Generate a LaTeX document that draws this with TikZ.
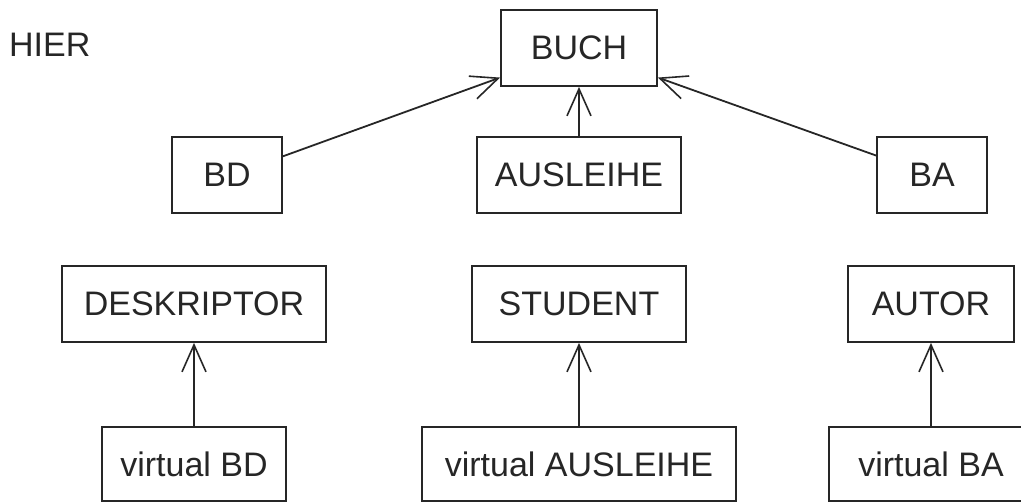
\documentclass[tikz,border=0pt]{standalone}
\usepackage{fontspec}
\setmainfont{Liberation Sans}
\usetikzlibrary{arrows.meta,calc}
\begin{document}
\begin{tikzpicture}[x=1pt,y=-1pt,
  box/.style={draw=black!85,line width=1.8pt,minimum height=75pt,inner sep=0pt,font=\fontsize{34}{36}\selectfont,text=black!85},
  link/.style={draw=black!85,line width=1.8pt,-{Straight Barb[length=27pt,width=24pt,line width=1.6pt]}}]
\useasboundingbox (0,0) rectangle (1021,502);
\clip (0,0) rectangle (1021,502);
\node[anchor=base west,inner sep=0pt,font=\fontsize{34}{36}\selectfont,text=black!85] (hier) at (9,57) {HIER};
% top level
\node[box,minimum width=156pt,minimum height=76pt] (buch) at (579,48) {BUCH};
% middle level
\node[box,minimum width=110pt,minimum height=76pt] (bd) at (227,175) {BD};
\node[box,minimum width=204pt,minimum height=76pt] (ausleihe) at (579,175) {AUSLEIHE};
\node[box,minimum width=110pt,minimum height=76pt] (ba) at (932,175) {BA};
% base relations
\node[box,minimum width=264pt,minimum height=76pt] (deskriptor) at (194,304) {DESKRIPTOR};
\node[box,minimum width=214pt,minimum height=76pt] (student) at (579,304) {STUDENT};
\node[box,minimum width=166pt,minimum height=76pt] (autor) at (931,304) {AUTOR};
% virtual relations
\node[box,minimum width=184pt,minimum height=74pt] (vbd) at (194,464) {virtual BD};
\node[box,minimum width=314pt,minimum height=74pt] (vausleihe) at (579,464) {virtual AUSLEIHE};
\node[box,minimum width=204pt,minimum height=74pt] (vba) at (931,464) {virtual BA};
% hierarchy arrows
\draw[link] ($(bd.north east)!0.26!(bd.south east)$) -- ($(buch.south west)!0.12!(buch.north west)$);
\draw[link] (ausleihe.north) -- (buch.south);
\draw[link] ($(ba.north west)!0.25!(ba.south west)$) -- ($(buch.south east)!0.12!(buch.north east)$);
\draw[link] (vbd.north) -- (deskriptor.south);
\draw[link] (vausleihe.north) -- (student.south);
\draw[link] (vba.north) -- (autor.south);
\end{tikzpicture}
\end{document}
